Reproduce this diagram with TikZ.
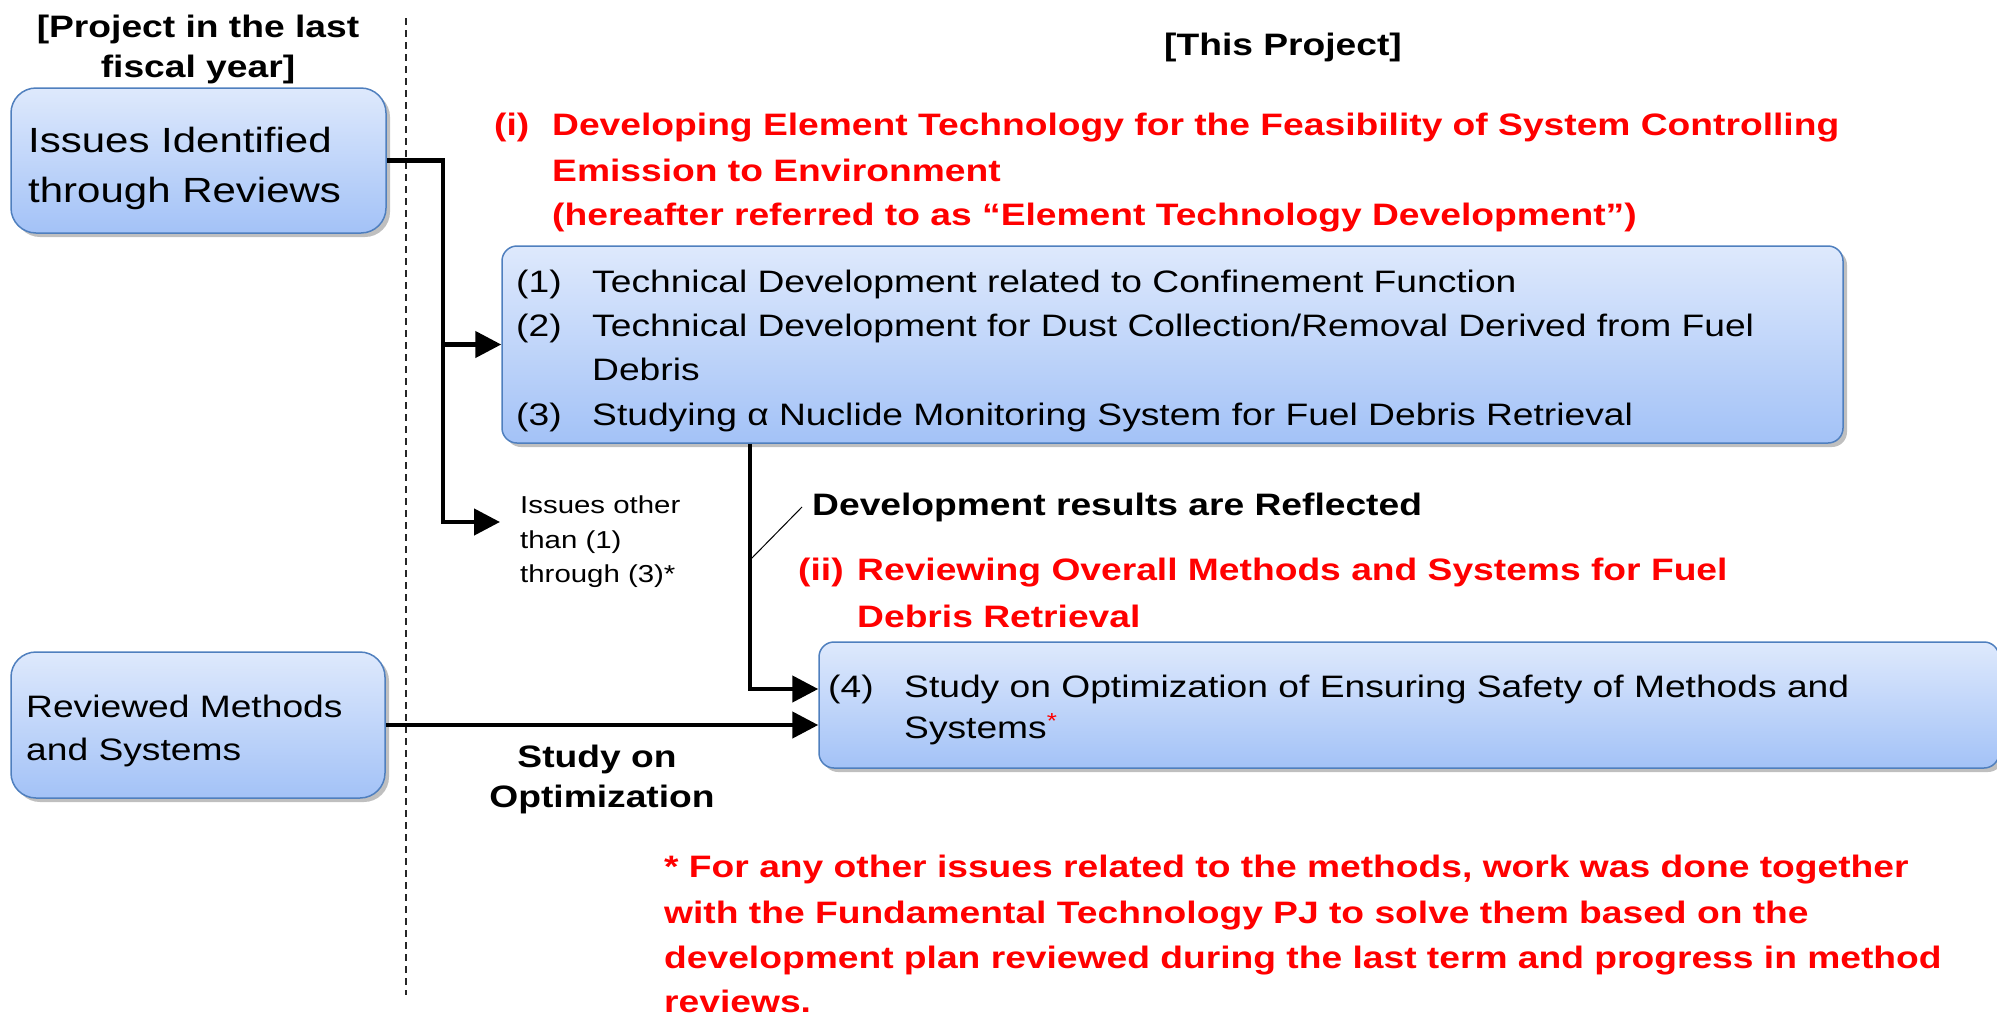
\documentclass[tikz,border=0pt]{standalone}
\usepackage{fontspec}
\setmainfont{Liberation Sans}[FakeStretch=1.2]
\usetikzlibrary{arrows.meta,shadows,calc}
\definecolor{boxtop}{HTML}{DEE9FC}
\definecolor{boxbot}{HTML}{A3C2F7}
\definecolor{boxline}{HTML}{4F7FBE}
\definecolor{redtxt}{HTML}{FF0000}
\newcommand\FsBig{\fontsize{35}{50}\selectfont}
\newcommand\FsMain{\fontsize{31}{45}\selectfont}
\newcommand\FsSmall{\fontsize{24.5}{35}\selectfont}
\begin{document}
\begin{tikzpicture}[x=1pt,y=-1pt,
  box/.style={draw=boxline, line width=1.5pt, top color=boxtop, bottom color=boxbot,
    drop shadow={shadow xshift=4pt, shadow yshift=-4pt, opacity=0.25, fill=black}, inner sep=0pt},
  lbl/.style={inner sep=0pt, anchor=base west, font=\FsMain},
  ctr/.style={inner sep=0pt, anchor=base, font=\FsMain\bfseries},
  redl/.style={lbl, text=redtxt, font=\FsMain\bfseries},
  conn/.style={line width=4.5pt, -{Triangle[length=26pt,width=26pt]}},
  plain/.style={line width=4.5pt},
  sep/.style={line width=1.5pt, dash pattern=on 7pt off 5pt, black!85}
]
\useasboundingbox (0,0) rectangle (1997,1015);

% boxes
\node[box, rounded corners=25pt, minimum width=375pt, minimum height=145pt] (iss) at (198.5,160.5) {};
\node[box, rounded corners=15pt, minimum width=1341pt, minimum height=197pt] (b13) at (1172.5,344.5) {};
\node[box, rounded corners=15pt, minimum width=1180pt, minimum height=126pt] (b4) at (1409,705) {};
\node[box, rounded corners=25pt, minimum width=374pt, minimum height=146pt] (rev) at (198,725) {};

% separator
\coordinate (s1) at (406,18);
\coordinate (s2) at (406,995);
\draw[sep] (s1) -- (s2);

% connectors
\coordinate (jx) at (443,0);
\coordinate (othtip) at (500,522);
\draw[plain] (iss.east) -- (iss.east -| jx) -- (jx |- othtip);
\draw[conn] ([yshift=2.25pt]jx |- othtip) |- (othtip);
\draw[conn] (jx |- b13.west) -- (b13.west);
\coordinate (dx) at (750,0);
\draw[conn] (b13.south -| dx) |- ([yshift=16pt]b4.west);
\draw[conn] (rev.east) -- (rev.east -| b4.west);

% headers
\node[ctr] (h1a) at (198,37) {[Project in the last};
\node[ctr] (h1b) at (198,77) {fiscal year]};
\node[ctr] (h2) at (1283,55) {[This Project]};

% left boxes text
\node[lbl, font=\FsBig] (issa) at (28,152) {Issues Identified};
\node[lbl, font=\FsBig] (issb) at (28,202) {through Reviews};
\node[lbl] (reva) at (26,717) {Reviewed Methods};
\node[lbl] (revb) at (26,760) {and Systems};

% red title (i)
\node[redl] (ti) at (494,135) {(i)};
\node[redl] (tia) at (552,135) {Developing Element Technology for the Feasibility of System Controlling};
\node[redl] (tib) at (552,181) {Emission to Environment};
\node[redl] (tic) at (552,225) {(hereafter referred to as “Element Technology Development”)};

% box 1-3 text
\node[lbl] (n1) at (516,292) {(1)};
\node[lbl] (t1) at (592,292) {Technical Development related to Confinement Function};
\node[lbl] (n2) at (516,336) {(2)};
\node[lbl] (t2a) at (592,336) {Technical Development for Dust Collection/Removal Derived from Fuel};
\node[lbl] (t2b) at (592,380) {Debris};
\node[lbl] (n3) at (516,425) {(3)};
\node[lbl] (t3) at (592,425) {Studying α Nuclide Monitoring System for Fuel Debris Retrieval};

% other issues
\node[lbl, font=\FsSmall] (oa) at (520,513) {Issues other};
\node[lbl, font=\FsSmall] (ob) at (520,548) {than (1)};
\node[lbl, font=\FsSmall] (oc) at (520,582) {through (3)*};

% development results
\node[lbl, font=\FsMain\bfseries] (dev) at (812,515) {Development results are Reflected};
\coordinate (dg1) at (750,560);
\draw[line width=1pt] (dg1) -- ([xshift=-10pt]dev.west);

% red title (ii)
\node[redl] (tii) at (798,580) {(ii)};
\node[redl] (tiia) at (857,580) {Reviewing Overall Methods and Systems for Fuel};
\node[redl] (tiib) at (857,627) {Debris Retrieval};

% box 4 text
\node[lbl] (n4) at (828,697) {(4)};
\node[lbl] (t4a) at (904,697) {Study on Optimization of Ensuring Safety of Methods and};
\node[lbl] (t4b) at (904,738) {Systems\textsuperscript{\color{redtxt}*}};

% study on optimization
\node[ctr] (soa) at (597,767) {Study on};
\node[ctr] (sob) at (602,807) {Optimization};

% footnote
\node[redl] (fa) at (664,877) {* For any other issues related to the methods, work was done together};
\node[redl] (fb) at (664,923) {with the Fundamental Technology PJ to solve them based on the};
\node[redl] (fc) at (664,968) {development plan reviewed during the last term and progress in method};
\node[redl] (fd) at (664,1012) {reviews.};
\end{tikzpicture}
\end{document}
